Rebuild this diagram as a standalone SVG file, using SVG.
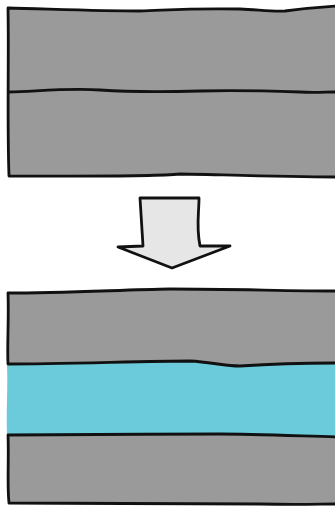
<svg xmlns="http://www.w3.org/2000/svg" width="335" height="508" viewBox="0 0 335 508">
<style>
.gray{fill:#9a9a9a;stroke:none}
.cyan{fill:#6ccbdb;stroke:none}
.ln{fill:none;stroke:#111;stroke-width:2.8;stroke-linejoin:round;stroke-linecap:round}
.arrow{fill:#e6e6e6;stroke:#111;stroke-width:2.8;stroke-linejoin:round}
</style>
<rect width="335" height="508" fill="#ffffff"/>
<g id="before">
<path class="gray" d="M8,8 C50,9 100,11 140,11 C170,10 190,8 240,9 C260,10 275,12 285,11 C300,9 320,7 336,6 L336,177 C280,177 200,174 180,174 C150,177 60,176 9,176 Z"/>
<path class="ln" d="M336,6 C320,7 300,9 285,11 C275,12 260,10 240,9 C190,8 170,10 140,11 C100,11 50,9 8,8 C9,60 7,120 9,176 C60,176 150,177 180,174 C200,174 280,177 336,177"/>
<path class="ln" d="M9,92 C40,91 70,88 100,90 C130,92 160,92 200,91 C240,90 270,91 300,92 C315,93 325,92 336,92"/>
</g>
<g id="arrow">
<path class="arrow" d="M140,198 L199,198 C199,214 196,226 200,246 L230,246 L172,268 L118,247 L143,246 C142,230 141,214 140,198 Z"/>
</g>
<g id="after">
<path class="gray" d="M8,293 C60,293 120,290 170,289 C230,289 290,291 336,291 L336,372 L8,372 Z"/>
<path class="cyan" d="M7,364 C60,364 150,361 190,361 C210,362 225,366 240,366 C270,364 310,363 336,363 L336,437 C300,436 250,434 220,434 C150,434 60,435 7,435 C6,410 8,390 7,364 Z"/>
<path class="gray" d="M8,435 C60,435 150,434 220,434 C250,434 300,436 336,437 L336,505 L8,504 Z"/>
<path class="ln" d="M336,291 C290,291 230,289 170,289 C120,290 60,293 8,293 C9,320 7,345 8,364 C60,364 150,361 190,361 C210,362 225,366 240,366 C270,364 310,363 336,363"/>
<path class="ln" d="M336,437 C300,436 250,434 220,434 C150,434 60,435 8,435 C9,460 7,485 9,503 C80,504 200,503 260,504 C300,505 320,504 336,504"/>
</g>
</svg>
